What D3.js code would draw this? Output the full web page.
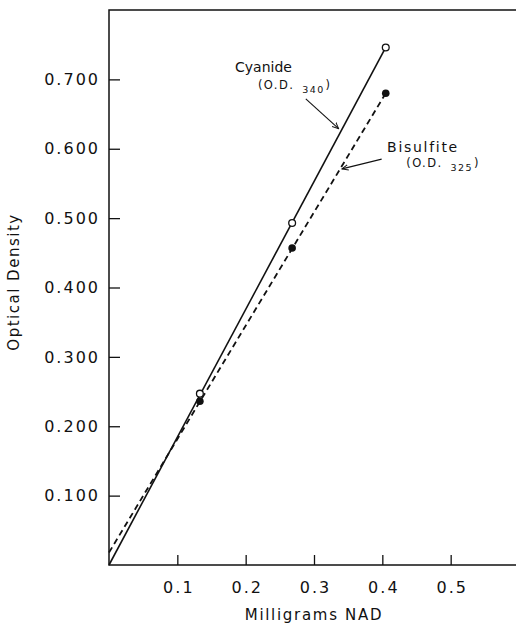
<!DOCTYPE html>
<html>
<head>
<meta charset="utf-8">
<script src="https://cdn.jsdelivr.net/npm/d3@7"></script>
<style>
  html, body { margin: 0; padding: 0; background: #fff; }
  svg { display: block; }
  text { font-family: "DejaVu Sans", sans-serif; fill: #111; }
</style>
</head>
<body>
<script>
// values
const nadMg = [0.133, 0.268, 0.405];
const cyanideOD = [0.247, 0.493, 0.746];
const bisulfiteOD = [0.236, 0.457, 0.680];

// fitted lines drawn through the points (start, end)
const cyanideFitX = [0, 0.405];
const cyanideFitY = [0, 0.746];
const bisulfiteFitX = [0, 0.405];
const bisulfiteFitY = [0.018, 0.680];

const xTicks = [0.1, 0.2, 0.3, 0.4, 0.5];
const xTickLabels = ['0.1', '0.2', '0.3', '0.4', '0.5'];
const yTicks = [0.1, 0.2, 0.3, 0.4, 0.5, 0.6, 0.7];
const yTickLabels = ['0.100', '0.200', '0.300', '0.400', '0.500', '0.600', '0.700'];

const W = 516, H = 625;
const x = d3.scaleLinear().domain([0, 0.6]).range([109, 519]);
const y = d3.scaleLinear().domain([0, 0.8]).range([565, 10]);

const svg = d3.select('body').append('svg')
    .attr('width', W)
    .attr('height', H);

const defs = svg.append('defs');
defs.append('marker')
    .attr('id', 'arrow')
    .attr('viewBox', '0 0 10 10')
    .attr('refX', 9).attr('refY', 5)
    .attr('markerWidth', 7).attr('markerHeight', 7)
    .attr('markerUnits', 'userSpaceOnUse')
    .attr('orient', 'auto')
    .append('path')
    .attr('d', 'M0,1 L9,5 L0,9')
    .attr('fill', 'none')
    .attr('stroke', '#111')
    .attr('stroke-width', 1.4);

// frame (right edge falls just outside the picture)
svg.append('rect')
    .attr('x', x(0)).attr('y', y(0.8))
    .attr('width', x(0.6) - x(0))
    .attr('height', y(0) - y(0.8))
    .attr('fill', 'none')
    .attr('stroke', '#111')
    .attr('stroke-width', 1.5);

const yAxis = d3.axisLeft(y)
    .tickValues(yTicks)
    .tickFormat((d, i) => yTickLabels[i])
    .tickSizeInner(-11)
    .tickSizeOuter(0)
    .tickPadding(9);

svg.append('g')
    .attr('transform', 'translate(' + x(0) + ',0)')
    .call(yAxis)
    .call(g => g.select('.domain').remove())
    .call(g => g.selectAll('line').attr('stroke', '#111').attr('stroke-width', 1.3))
    .call(g => g.selectAll('text')
        .attr('font-size', 16)
        .attr('letter-spacing', 2)
        .attr('fill', '#111')
        .style('font-family', '"DejaVu Sans", sans-serif'));

const xAxis = d3.axisBottom(x)
    .tickValues(xTicks)
    .tickFormat((d, i) => xTickLabels[i])
    .tickSizeInner(-10)
    .tickSizeOuter(0)
    .tickPadding(17);

svg.append('g')
    .attr('transform', 'translate(0,' + y(0) + ')')
    .call(xAxis)
    .call(g => g.select('.domain').remove())
    .call(g => g.selectAll('line').attr('stroke', '#111').attr('stroke-width', 1.3))
    .call(g => g.selectAll('text')
        .attr('font-size', 16)
        .attr('letter-spacing', 2)
        .attr('dx', 1)
        .attr('fill', '#111')
        .style('font-family', '"DejaVu Sans", sans-serif'));

// axis titles
svg.append('text')
    .attr('transform', 'translate(19,282) rotate(-90)')
    .attr('text-anchor', 'middle')
    .attr('font-size', 15)
    .attr('letter-spacing', 1.5)
    .text('Optical Density');

svg.append('text')
    .attr('x', 314).attr('y', 620)
    .attr('text-anchor', 'middle')
    .attr('font-size', 15)
    .attr('letter-spacing', 1.7)
    .text('Milligrams NAD');

// fitted lines
const line = d3.line().x(d => x(d[0])).y(d => y(d[1]));

svg.append('path')
    .datum(d3.zip(cyanideFitX, cyanideFitY))
    .attr('d', line)
    .attr('fill', 'none')
    .attr('stroke', '#111')
    .attr('stroke-width', 1.6);

svg.append('path')
    .datum(d3.zip(bisulfiteFitX, bisulfiteFitY))
    .attr('d', line)
    .attr('fill', 'none')
    .attr('stroke', '#111')
    .attr('stroke-width', 1.8)
    .attr('stroke-dasharray', '6,4');

// points
svg.append('g').selectAll('circle')
    .data(d3.zip(nadMg, cyanideOD))
    .join('circle')
    .attr('cx', d => x(d[0]))
    .attr('cy', d => y(d[1]))
    .attr('r', 3.4)
    .attr('fill', '#fff')
    .attr('stroke', '#111')
    .attr('stroke-width', 1.3);

svg.append('g').selectAll('circle')
    .data(d3.zip(nadMg, bisulfiteOD))
    .join('circle')
    .attr('cx', d => x(d[0]))
    .attr('cy', d => y(d[1]))
    .attr('r', 3.8)
    .attr('fill', '#111');

// annotations (positions in data units)
const notes = [
    { name: 'Cyanide', sub: '340', nx: 0.1845, ny: 0.711, spacing: 0,
      ox: 0.218, oy: 0.686, from: [0.288, 0.672], to: [0.336, 0.629] },
    { name: 'Bisulfite', sub: '325', nx: 0.407, ny: 0.595, spacing: 1.7,
      ox: 0.435, oy: 0.574, from: [0.399, 0.585], to: [0.341, 0.571] }
];

notes.forEach(n => {
    svg.append('text')
        .attr('x', x(n.nx)).attr('y', y(n.ny))
        .attr('font-size', 14)
        .attr('letter-spacing', n.spacing)
        .text(n.name);

    const t = svg.append('text')
        .attr('x', x(n.ox)).attr('y', y(n.oy))
        .attr('font-size', 11.5)
        .attr('letter-spacing', 1.4);
    t.append('tspan').text('(O.D. ');
    t.append('tspan').attr('font-size', 9.5).attr('dy', 4).attr('dx', 3).text(n.sub);
    t.append('tspan').attr('dy', -4).attr('dx', 1).text(')');

    svg.append('line')
        .attr('x1', x(n.from[0])).attr('y1', y(n.from[1]))
        .attr('x2', x(n.to[0])).attr('y2', y(n.to[1]))
        .attr('stroke', '#111')
        .attr('stroke-width', 1.1)
        .attr('marker-end', 'url(#arrow)');
});
</script>
</body>
</html>
